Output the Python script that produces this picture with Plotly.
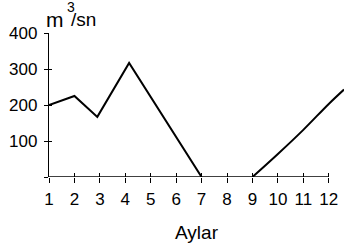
import plotly.graph_objects as go

# Data
months_a = [1, 2, 2.9, 4.15, 7]
flow_a = [200, 225, 167, 317, 0]
months_b = [9, 10, 11, 12, 12.6]
flow_b = [0, 64, 131, 203, 243]

x_ticks = list(range(1, 13))
x_labels = [str(m) for m in x_ticks]
y_ticks = [0, 100, 200, 300, 400]
y_labels = ["", "100", "200", "300", "400"]

FONT = "Liberation Sans, Arial, Helvetica, sans-serif"
XR = [1, 12.6]
YR = [0, 400]

fig = go.Figure()
fig.add_trace(go.Scatter(x=months_a, y=flow_a, mode="lines",
                         line=dict(color="black", width=2), showlegend=False))
fig.add_trace(go.Scatter(x=months_b, y=flow_b, mode="lines",
                         line=dict(color="black", width=2, shape="spline"),
                         showlegend=False))
# invisible trace for overlay axes (inside tick halves)
fig.add_trace(go.Scatter(x=[None], y=[None], xaxis="x2", yaxis="y2",
                         showlegend=False, hoverinfo="skip"))

# x-axis baseline only from first to last month
fig.add_shape(type="line", xref="x", yref="y", x0=x_ticks[0], x1=x_ticks[-1],
              y0=0, y1=0, line=dict(color="black", width=1.3))

fig.update_layout(
    width=344, height=250,
    margin=dict(l=49, r=0, t=33, b=73, autoexpand=False),
    paper_bgcolor="white", plot_bgcolor="white",
    font=dict(family=FONT, size=17, color="black"),
    xaxis=dict(range=XR, showline=False, showgrid=False, zeroline=False,
               automargin=False,
               tickvals=x_ticks, ticktext=x_labels, ticks="outside",
               ticklen=5, tickwidth=1.3, tickcolor="black",
               tickfont=dict(size=17), ticklabelstandoff=2,
               title=dict(text="Aylar", font=dict(size=19), standoff=17)),
    yaxis=dict(range=YR, showline=True, linecolor="black", linewidth=1.3,
               showgrid=False, zeroline=False, automargin=False,
               tickvals=y_ticks, ticktext=y_labels, ticks="outside",
               ticklen=4, tickwidth=1.3, tickcolor="black",
               tickfont=dict(size=17), ticklabelstandoff=3),
    xaxis2=dict(range=XR, overlaying="x", anchor="y", side="bottom",
                showline=False, showgrid=False, zeroline=False,
                automargin=False,
                tickvals=x_ticks, ticks="inside", ticklen=4, tickwidth=1.3,
                tickcolor="black", showticklabels=False),
    yaxis2=dict(range=YR, overlaying="y", anchor="x", side="left",
                showline=False, showgrid=False, zeroline=False,
                automargin=False,
                tickvals=y_ticks[1:], ticks="inside", ticklen=3, tickwidth=1.3,
                tickcolor="black", showticklabels=False),
)

# unit label: m, superscript 3, /sn
fig.add_annotation(text="m", xref="paper", yref="paper", x=-0.016, y=1.0,
                   xanchor="left", yanchor="bottom", showarrow=False,
                   font=dict(size=21))
fig.add_annotation(text="3", xref="paper", yref="paper", x=0.053, y=1.112,
                   xanchor="left", yanchor="bottom", showarrow=False,
                   font=dict(size=14))
fig.add_annotation(text="/sn", xref="paper", yref="paper", x=0.067, y=1.004,
                   xanchor="left", yanchor="bottom", showarrow=False,
                   font=dict(size=19))

fig.write_html("out.html",
               config={"displayModeBar": False},
               post_script="document.body.style.margin='0px';"
                           "document.body.style.overflow='hidden';")
